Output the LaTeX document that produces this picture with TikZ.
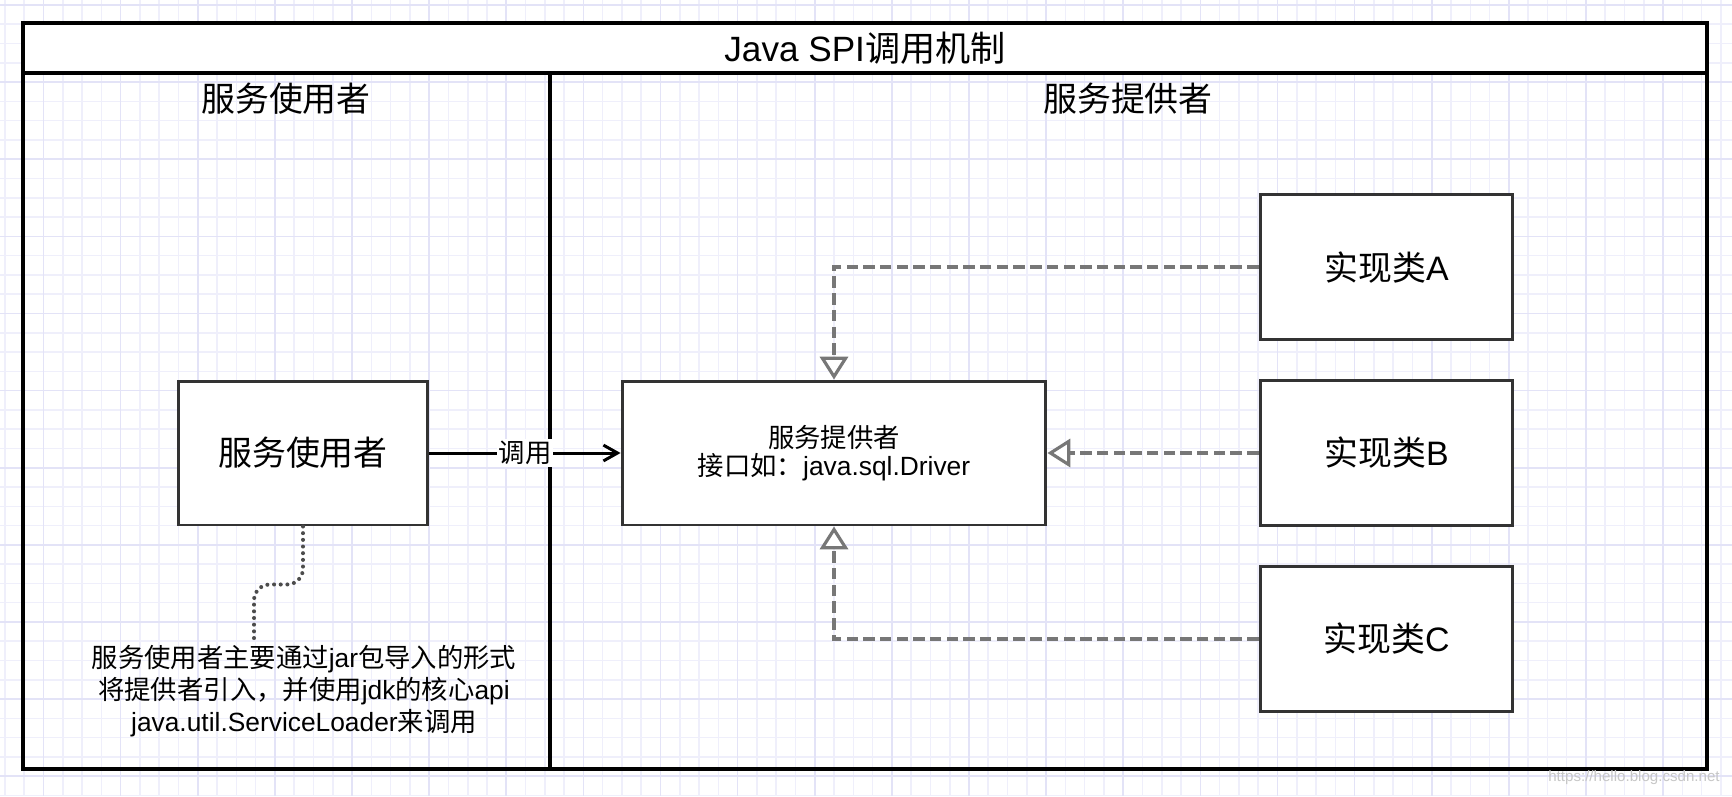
\documentclass[tikz,border=0pt]{standalone}
\usepackage{fontspec}
\setmainfont{Liberation Sans}
\newfontfamily\cjk{Noto Sans CJK SC}
\usetikzlibrary{positioning,arrows.meta}
\definecolor{gridminor}{HTML}{EFEFFB}
\definecolor{gridmajor}{HTML}{E3E3F7}
\definecolor{boxline}{HTML}{333333}
\definecolor{dashgray}{HTML}{777777}
\begin{document}
\begin{tikzpicture}[x=0.02cm,y=-0.02cm,
    box/.style={draw=boxline,line width=1.7pt,fill=white,minimum width=5cm,minimum height=2.88cm,font=\fontsize{19.3}{23}\selectfont},
    impl/.style={box,minimum width=5.06cm,minimum height=2.9cm},
    lane/.style={draw=black,line width=2.1pt},
    head/.style={font=\fontsize{19.3}{23}\selectfont},
    call/.style={draw=black,line width=1.7pt,-{Straight Barb[length=8pt,width=9pt]}},
    calllabel/.style={fill=white,inner sep=1pt,font=\fontsize{15}{18}\selectfont},
    realize/.style={draw=dashgray,line width=1.8pt,dash pattern=on 6.5pt off 3pt,-{Triangle[length=13pt,width=16pt,fill=white]}},
    dotline/.style={draw=black!70,line width=2.3pt,dash pattern=on 0pt off 3.8pt,line cap=round,rounded corners=9pt},
    node distance={0.76cm}]
    \useasboundingbox (0,0) rectangle (1732,796);
    \fill[white] (0,0) rectangle (1732,796);
    % grid
    \foreach \k in {0,...,89}
        \draw[gridminor,line width=0.9pt] ({5+19.28*\k},0) -- ({5+19.28*\k},796);
    \foreach \k in {0,...,41}
        \draw[gridminor,line width=0.9pt] (0,{5+19.28*\k}) -- (1732,{5+19.28*\k});
    \foreach \k in {2,6,...,86}
        \draw[gridmajor,line width=0.9pt] ({5+19.28*\k},0) -- ({5+19.28*\k},796);
    \foreach \k in {0,4,...,40}
        \draw[gridmajor,line width=0.9pt] (0,{5+19.28*\k}) -- (1732,{5+19.28*\k});
    % frame and lanes
    \draw[lane,fill=white] (23,23) rectangle (1707,73);
    \draw[lane] (23,73) rectangle (1707,769);
    \draw[lane] (550,73) -- (550,769);
    \node[font=\fontsize{20}{24}\selectfont] (title) at (865,48) {Java SPI{\cjk 调用机制}};
    \node[head] (userhead) at (286,99) {\cjk 服务使用者};
    \node[head] (provhead) at (1128,99) {\cjk 服务提供者};
    % nodes
    \node[box] (user) at (303,453) {\cjk 服务使用者};
    \node[box,minimum width=8.48cm,align=center,font=\fontsize{15}{16}\selectfont] (iface) at (834,453) {{\cjk 服务提供者}\\{\cjk 接口如：}java.sql.Driver};
    \node[impl] (implB) at (1386.5,453) {{\cjk 实现类}B};
    \node[impl,above=of implB] (implA) {{\cjk 实现类}A};
    \node[impl,below=of implB] (implC) {{\cjk 实现类}C};
    \node[align=center,font=\fontsize{15}{18}\selectfont] (note) at (304,691) {{\cjk 服务使用者主要通过}jar{\cjk 包导入的形式}\\{\cjk 将提供者引入，并使用}jdk{\cjk 的核心}api\\java.util.ServiceLoader{\cjk 来调用}};
    \node[font=\fontsize{8.6}{10}\selectfont,text=black!22] (mark) at (1634,778) {https://hello.blog.csdn.net};
    % connectors
    \draw[call] (user) -- node[calllabel]{\cjk 调用} (iface);
    \draw[realize] (implA.west) -| (iface.north);
    \draw[realize] (implB) -- (iface);
    \draw[realize] (implC.west) -| (iface.south);
    \draw[dotline] (user.south) -- ++(0,58) -| ([xshift=-1cm,yshift=-3pt]note.north);
\end{tikzpicture}
\end{document}
